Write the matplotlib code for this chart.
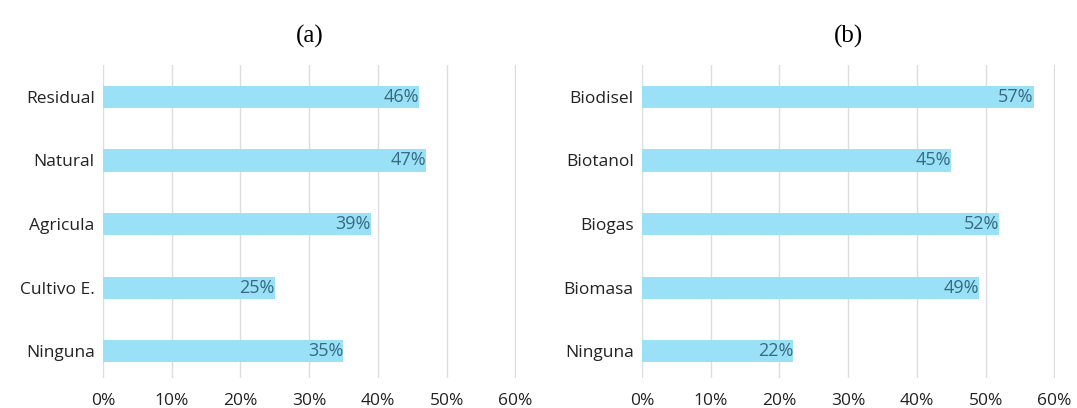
import matplotlib.pyplot as plt

cats_a = ["Residual", "Natural", "Agricula", "Cultivo E.", "Ninguna"]
vals_a = [46, 47, 39, 25, 35]
cats_b = ["Biodisel", "Biotanol", "Biogas", "Biomasa", "Ninguna"]
vals_b = [57, 45, 52, 49, 22]
ticks = [0, 10, 20, 30, 40, 50, 60]

bar_color = "#9ae0f7"
text_color = "#376a80"

plt.rcParams['font.family'] = ['Open Sans', 'DejaVu Sans']

fig = plt.figure(figsize=(10.77, 4.08), dpi=100)
ax_a = fig.add_axes([0.0956, 0.0735, 0.3835, 0.767])
ax_b = fig.add_axes([0.5961, 0.0735, 0.3835, 0.767])

for ax, cats, vals, title in [(ax_a, cats_a, vals_a, "(a)"), (ax_b, cats_b, vals_b, "(b)")]:
    pos = list(range(len(cats)))
    ax.barh(pos, vals, height=0.35, color=bar_color, zorder=2)
    for p, v in zip(pos, vals):
        ax.text(v, p, f"{v}%", ha="right", va="center", fontsize=13,
                color=text_color, zorder=3)
    ax.set_yticks(pos)
    ax.set_yticklabels(cats, fontsize=12.5, color="#222222")
    ax.set_ylim(4.42, -0.5)
    ax.set_xlim(0, 60.1)
    ax.set_xticks(ticks)
    ax.set_xticklabels([f"{t}%" for t in ticks], fontsize=12.5, color="#222222")
    ax.grid(axis="x", color="#dddddd", linewidth=1, zorder=0)
    ax.tick_params(length=0, pad=6)
    ax.tick_params(axis="x", pad=11)
    for s in ax.spines.values():
        s.set_visible(False)
    ax.set_title(title, fontsize=18, family="Liberation Serif", pad=16)

fig.savefig("out.png", dpi=100)
